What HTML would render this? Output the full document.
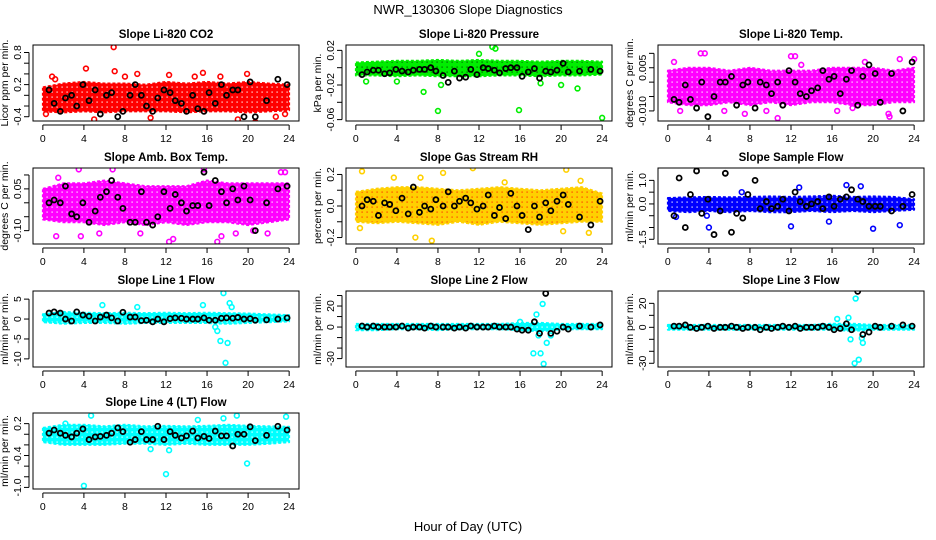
<!DOCTYPE html>
<html><head><meta charset="utf-8"><title>NWR_130306 Slope Diagnostics</title>
<style>
html,body{margin:0;padding:0;background:#fff;}
svg{display:block;font-family:"Liberation Sans",sans-serif;}
</style></head>
<body>
<svg id="fig" width="936" height="540" viewBox="0 0 936 540" xmlns="http://www.w3.org/2000/svg">
<rect width="936" height="540" fill="#fff"/>
<text x="468" y="14" text-anchor="middle" font-size="13">NWR_130306  Slope Diagnostics</text>
<text x="468" y="531" text-anchor="middle" font-size="13">Hour of Day (UTC)</text>
</svg>
<script>
// shared hours for black (reference) points
const blackHours = [0.6,1.1,1.7,2.2,2.8,3.3,3.9,4.5,5.1,5.6,6.2,6.7,7.3,7.8,8.5,9.0,9.6,10.1,10.7,11.2,11.8,12.4,12.9,13.5,14.0,14.6,15.1,15.7,16.2,16.8,17.4,17.9,18.5,19.0,19.6,20.2,20.7,21.8,22.9,23.8];
const bandHours = [0,2,4,6,8,10,12,14,16,18,20,22,24];
const xTicks = [0,4,8,12,16,20,24];

const co2Black = [0.1,-0.15,-0.3,-0.05,0.0,-0.2,0.2,-0.1,0.1,-0.35,0.0,0.05,-0.4,-0.3,0.0,0.2,0.0,-0.2,-0.3,-0.05,0.1,0.05,-0.1,-0.15,-0.3,0.0,-0.25,-0.3,0.05,-0.15,0.2,0.0,0.1,0.1,-0.4,0.25,-0.4,-0.1,0.3,0.2];
const co2Lo = [-0.3,-0.32,-0.3,-0.32,-0.3,-0.3,-0.3,-0.32,-0.3,-0.3,-0.32,-0.3,-0.28];
const co2Hi = [0.15,0.22,0.25,0.22,0.22,0.2,0.25,0.22,0.25,0.22,0.25,0.22,0.2];
const co2OutH = [0.3,0.9,4.2,6.9,7.0,8.0,9.2,12.3,14.8,15.6,19.0,19.9,20.7,22.7,1.2,5.0,10.5,17.3,23.6];
const co2OutV = [-0.35,0.35,0.5,0.9,0.45,0.35,0.4,0.38,0.35,0.42,-0.45,0.4,-0.5,-0.4,0.3,-0.45,-0.42,0.35,-0.35];

const presBlack = [-0.008,-0.005,-0.003,-0.003,-0.007,-0.006,-0.002,-0.004,-0.005,-0.003,-0.002,-0.002,0.0,-0.004,-0.009,-0.017,-0.004,-0.012,-0.011,-0.002,-0.008,0.0,-0.001,-0.003,-0.006,-0.001,0.0,0.0,-0.01,-0.005,-0.001,-0.012,-0.004,-0.005,-0.003,0.005,-0.005,-0.004,-0.002,-0.004];
const presLo = [-0.009,-0.009,-0.01,-0.009,-0.01,-0.01,-0.01,-0.009,-0.009,-0.01,-0.009,-0.009,-0.008];
const presHi = [0.006,0.007,0.008,0.008,0.009,0.008,0.009,0.008,0.008,0.007,0.008,0.008,0.007];
const presOutH = [8.0,8.3,6.6,15.9,12.0,13.3,13.6,18.0,20.0,21.6,24.0,4.0,1.0];
const presOutV = [-0.05,-0.02,-0.028,-0.049,0.016,0.024,0.022,-0.018,-0.02,-0.024,-0.058,-0.016,-0.016];

const tempBlack = [-0.006,-0.007,-0.001,-0.006,-0.009,0.0,-0.012,-0.005,0.0,0.0,0.002,-0.008,-0.001,0.0,-0.009,0.0,-0.001,-0.004,0.0,-0.008,0.004,0.0,-0.004,-0.005,-0.003,-0.002,0.004,0.001,0.002,-0.004,0.001,0.004,-0.008,0.002,0.006,0.003,-0.007,0.003,-0.01,0.007];
const tempLo = [-0.007,-0.008,-0.008,-0.007,-0.008,-0.007,-0.008,-0.007,-0.007,-0.008,-0.008,-0.007,-0.007];
const tempHi = [0.004,0.005,0.005,0.004,0.005,0.004,0.004,0.004,0.005,0.005,0.005,0.004,0.005];
const tempOutH = [3.2,3.6,10.7,12.0,12.4,19.2,21.5,21.6,22.6,24.0,0.6,1.2,5.5,7.5,9.6,13.0,16.5,18.0];
const tempOutV = [0.010,0.010,-0.0125,0.009,0.009,0.007,-0.011,-0.012,0.008,0.008,0.007,-0.010,-0.010,-0.011,-0.010,0.006,-0.010,-0.009];

const ambBlack = [0.0,0.01,0.0,0.06,-0.04,-0.05,0.0,-0.07,-0.03,0.02,0.04,0.08,0.02,-0.02,-0.07,-0.07,0.04,-0.07,-0.08,-0.05,0.04,-0.02,0.03,0.0,-0.03,-0.01,-0.01,0.11,-0.01,0.08,0.04,0.0,0.05,0.01,0.06,0.01,-0.1,0.0,0.05,0.06];
const ambLo = [-0.06,-0.07,-0.07,-0.08,-0.07,-0.08,-0.07,-0.08,-0.07,-0.07,-0.08,-0.07,-0.06];
const ambHi = [0.05,0.07,0.07,0.08,0.07,0.06,0.06,0.06,0.08,0.07,0.07,0.07,0.07];
const ambOutH = [1.3,3.5,3.7,5.5,6.8,12.3,12.7,15.7,17.0,17.4,21.9,23.2,23.6,1.5,9.5,18.8,20.5];
const ambOutV = [-0.12,0.12,-0.12,-0.11,0.12,-0.14,-0.13,0.12,-0.14,-0.12,-0.11,0.11,0.11,0.09,-0.11,-0.11,-0.1];

const rhBlack = [0.0,0.04,0.03,-0.06,0.02,0.01,-0.03,0.05,-0.05,0.12,-0.04,0.0,-0.02,0.04,0.0,0.09,0.0,0.03,0.05,0.02,-0.02,0.0,0.07,-0.06,-0.01,-0.08,0.08,0.0,-0.06,-0.15,0.0,-0.07,0.02,-0.03,0.03,0.07,0.01,-0.07,-0.12,0.03];
const rhLo = [-0.1,-0.11,-0.1,-0.11,-0.12,-0.1,-0.12,-0.1,-0.11,-0.12,-0.11,-0.1,-0.1];
const rhHi = [0.09,0.11,0.12,0.12,0.11,0.1,0.11,0.12,0.11,0.1,0.11,0.12,0.08];
const rhOutH = [0.6,0.4,7.4,8.5,5.8,6.3,11.4,20.5,20.2,22.7,21.9,3.7,14.5];
const rhOutV = [0.22,-0.14,-0.22,0.21,-0.2,0.18,0.24,0.23,-0.16,-0.17,0.16,0.18,0.15];

const sampBlack = [-0.5,1.1,-1.0,0.4,1.4,-0.4,0.2,-1.3,-0.3,1.3,-1.2,-0.4,-0.6,0.4,1.0,-0.2,0.1,-0.2,-0.1,0.2,-0.3,0.5,0.1,-0.1,0.0,0.1,-0.2,0.3,-0.1,0.2,0.3,0.6,0.2,0.1,-0.1,-0.1,-0.1,-0.3,-0.1,0.4];
const sampLo = [-0.3,-0.35,-0.3,-0.35,-0.3,-0.35,-0.35,-0.3,-0.35,-0.3,-0.35,-0.3,-0.25];
const sampHi = [0.25,0.28,0.3,0.28,0.3,0.32,0.3,0.32,0.35,0.3,0.32,0.3,0.2];
const sampOutH = [3.8,4.0,12.0,12.8,15.7,17.4,18.8,20.0,22.6,7.2,0.8];
const sampOutV = [-0.5,-1.0,-0.95,0.7,-0.75,0.8,0.75,-1.05,-0.9,0.5,-0.55];

const l1Black = [1.5,1.8,1.5,0.0,-0.5,1.8,1.0,0.7,-0.5,0.5,1.0,0.3,-0.5,1.7,0.5,0.5,-0.4,-0.3,-0.7,0.0,-0.7,0.1,0.3,0.2,0.0,0.0,0.0,0.3,-0.3,-0.3,0.2,0.3,0.2,0.4,0.0,0.1,-0.3,-0.2,0.0,0.3];
const l1Lo = [-0.8,-1.2,-1.0,-1.0,-1.2,-1.0,-1.0,-1.0,-1.0,-1.2,-1.0,-0.8,-0.6];
const l1Hi = [1.2,1.8,1.6,1.5,1.6,1.5,1.6,1.5,1.6,1.5,1.4,1.2,1.0];
const l1OutH = [17.8,17.6,17.3,17.0,18.0,18.4,18.2,16.8,5.8,9.2,15.6];
const l1OutV = [-11,6.5,-5.5,-3,-6,3,4,-2,3.5,3,3.5];

const l2Black = [1,0,1,0,0,0,0,1,-1,0,0,-1,1,0,0,0,-1,0,-1,1,0,0,0,1,0,0,0,-2,-3,-3,5,-6,32,-6,-4,0,-2,1,0,2];
const l2Lo = [-3,-3,-2,-2,-3,-2,-2,-2,-3,-4,-2,-2,-2];
const l2Hi = [3,3,3,3,3,3,3,3,4,4,3,3,3];
const l2OutH = [18.3,18.2,17.6,18.0,17.3,18.6,17.8,19.0,16.0];
const l2OutV = [-35,22,12,-25,-25,-15,-8,-8,5];

const l3Black = [1,1,2,0,-1,0,1,-1,0,0,1,0,-1,0,0,-2,0,-1,0,1,0,1,-1,0,0,0,1,0,-2,-1,3,-2,30,-6,-4,1,0,1,2,1];
const l3Lo = [-2,-2,-2,-2,-2,-2,-2,-2,-2,-3,-2,-2,-2];
const l3Hi = [2,2,2,2,2,2,2,2,3,3,2,2,2];
const l3OutH = [18.2,18.3,18.6,17.8,17.6,19.0,18.9,16.5];
const l3OutV = [-30,24,-27,-10,8,-13,-9,7];

const l4Black = [0.02,0.08,0.02,-0.02,-0.05,0.02,0.1,-0.1,-0.05,-0.04,-0.02,0.02,0.12,0.05,-0.15,-0.1,0.05,-0.1,-0.1,0.15,-0.1,0.05,-0.02,-0.07,-0.03,0.06,-0.07,-0.04,-0.08,0.06,-0.03,-0.03,-0.22,0.0,0.0,0.14,-0.12,-0.02,0.15,0.08];
const l4Lo = [-0.15,-0.2,-0.2,-0.2,-0.18,-0.18,-0.2,-0.18,-0.2,-0.2,-0.2,-0.18,-0.15];
const l4Hi = [0.12,0.18,0.18,0.15,0.18,0.15,0.16,0.15,0.16,0.18,0.16,0.15,0.14];
const l4OutH = [4.0,4.7,12.0,19.9,10.5,12.3,15.1,18.9,23.7,17.6,2.2];
const l4OutV = [-0.97,0.35,-0.75,-0.55,-0.28,-0.3,0.27,0.35,0.33,0.3,0.2];

const NS = "http://www.w3.org/2000/svg";
const svg = document.getElementById('fig');
function mk(tag, attrs, parent){
  const e = document.createElementNS(NS, tag);
  for (const k in attrs) e.setAttribute(k, attrs[k]);
  (parent||svg).appendChild(e);
  return e;
}
const defs = mk('defs', {});

const colLeft = [33,346,658], rowTop = [45,168,291,413], W = 266, H = 76;
const panels = [
 {name:'co2', title:'Slope Li-820 CO2', ylab:'Licor ppm per min.', col:0,row:0, ymin:-0.48,ymax:0.94, ticks:[-0.4,-0.2,0,0.2,0.4,0.6,0.8], labels:['-0.4','0.2','0.8'], color:'#ff0000', dot:'#ffffff', blk:co2Black, lo:co2Lo, hi:co2Hi, oh:co2OutH, ov:co2OutV},
 {name:'pressure', title:'Slope Li-820 Pressure', ylab:'kPa per min.', col:1,row:0, ymin:-0.0616,ymax:0.0262, ticks:[-0.06,-0.04,-0.02,0,0.02], labels:['-0.06','-0.02','0.02'], color:'#00ee00', dot:'#005500', blk:presBlack, lo:presLo, hi:presHi, oh:presOutH, ov:presOutV},
 {name:'li820-temp', title:'Slope Li-820 Temp.', ylab:'degrees C per min.', col:2,row:0, ymin:-0.0135,ymax:0.0129, ticks:[-0.01,-0.005,0,0.005,0.01], labels:['-0.010','0.005'], color:'#ff00ff', dot:'#ffffff', blk:tempBlack, lo:tempLo, hi:tempHi, oh:tempOutH, ov:tempOutV},
 {name:'amb-box-temp', title:'Slope Amb. Box Temp.', ylab:'degrees C per min.', col:0,row:1, ymin:-0.148,ymax:0.125, ticks:[-0.1,-0.05,0,0.05,0.1], labels:['-0.10','0.05'], color:'#ff00ff', dot:'#ffffff', blk:ambBlack, lo:ambLo, hi:ambHi, oh:ambOutH, ov:ambOutV},
 {name:'gas-stream-rh', title:'Slope Gas Stream RH', ylab:'percent per min.', col:1,row:1, ymin:-0.241,ymax:0.241, ticks:[-0.2,-0.1,0,0.1,0.2], labels:['-0.2','0.0','0.2'], color:'#ffd000', dot:'#ff3000', blk:rhBlack, lo:rhLo, hi:rhHi, oh:rhOutH, ov:rhOutV},
 {name:'sample-flow', title:'Slope Sample Flow', ylab:'ml/min per min.', col:2,row:1, ymin:-1.7,ymax:1.525, ticks:[-1.5,-1,-0.5,0,0.5,1], labels:['-1.5','0.0','1.0'], color:'#0000ff', dot:'#ffffff', blk:sampBlack, lo:sampLo, hi:sampHi, oh:sampOutH, ov:sampOutV},
 {name:'line1-flow', title:'Slope Line 1 Flow', ylab:'ml/min per min.', col:0,row:2, ymin:-12.04,ymax:7.04, ticks:[-10,-5,0,5], labels:['-10','-5','0','5'], color:'#00ffff', dot:'#ffffff', blk:l1Black, lo:l1Lo, hi:l1Hi, oh:l1OutH, ov:l1OutV},
 {name:'line2-flow', title:'Slope Line 2 Flow', ylab:'ml/min per min.', col:1,row:2, ymin:-38,ymax:34.3, ticks:[-30,-20,-10,0,10,20,30], labels:['-30','0','20'], color:'#00ffff', dot:'#ffffff', blk:l2Black, lo:l2Lo, hi:l2Hi, oh:l2OutH, ov:l2OutV},
 {name:'line3-flow', title:'Slope Line 3 Flow', ylab:'ml/min per min.', col:2,row:2, ymin:-33.1,ymax:30.3, ticks:[-30,-20,-10,0,10,20], labels:['-30','0','20'], color:'#00ffff', dot:'#ffffff', blk:l3Black, lo:l3Lo, hi:l3Hi, oh:l3OutH, ov:l3OutV},
 {name:'line4-flow', title:'Slope Line 4 (LT) Flow', ylab:'ml/min per min.', col:0,row:3, ymin:-1.03,ymax:0.40, ticks:[-1,-0.8,-0.6,-0.4,-0.2,0,0.2], labels:['-1.0','-0.4','0.2'], color:'#00ffff', dot:'#ffffff', blk:l4Black, lo:l4Lo, hi:l4Hi, oh:l4OutH, ov:l4OutV}
];

panels.forEach(p => {
  const L = colLeft[p.col], T = rowTop[p.row];
  const xs = h => L + (h + 0.96) / 25.92 * W;
  const ys = v => T + (p.ymax - v) / (p.ymax - p.ymin) * H;
  // speckled pattern mimicking overplotted circles
  const pat = mk('pattern', {id:'pat-' + p.name, width:5, height:5, patternUnits:'userSpaceOnUse'}, defs);
  mk('rect', {width:5, height:5, fill:p.color}, pat);
  mk('rect', {x:1.5, y:1.5, width:1.2, height:1.2, fill:p.dot}, pat);
  const g = mk('g', {});
  
  
  const clip = mk('clipPath', {id:'clip-' + p.name}, g);
  mk('rect', {x:L, y:T, width:W, height:H}, clip);
  const t = mk('text', {x:L + W/2, y:T - 7, 'text-anchor':'middle', 'font-size':'11.5', 'font-weight':'bold'}, g);
  
  
  t.textContent = p.title;
  const yl = mk('text', {x:0, y:0, 'text-anchor':'middle', 'font-size':'10.5', transform:`translate(${L-25},${T+H/2}) rotate(-90)`}, g);
  
  
  yl.textContent = p.ylab;
  const marks = mk('g', {'clip-path':`url(#clip-${p.name})`}, g);
  let d = '';
  bandHours.forEach((h,i) => { d += (i ? 'L' : 'M') + xs(h).toFixed(1) + ',' + ys(p.hi[i]).toFixed(1); });
  for (let i = bandHours.length - 1; i >= 0; i--) d += 'L' + xs(bandHours[i]).toFixed(1) + ',' + ys(p.lo[i]).toFixed(1);
  d += 'Z';
  const band = mk('path', {d:d, fill:`url(#pat-${p.name})`, stroke:p.color, 'stroke-width':'2', 'stroke-dasharray':'3 2', 'stroke-linejoin':'round'}, marks);
  
  
  p.oh.forEach((h,i) => {
    const c = mk('circle', {cx:xs(h), cy:ys(p.ov[i]), r:2.4, fill:'none', stroke:p.color, 'stroke-width':'1.6'}, marks);
    
    
  });
  blackHours.forEach((h,i) => {
    const c = mk('circle', {cx:xs(h), cy:ys(p.blk[i]), r:2.5, fill:'none', stroke:'#000', 'stroke-width':'1.8'}, marks);
    
    
  });
  const box = mk('rect', {x:L, y:T, width:W, height:H, fill:'none', stroke:'#000', 'stroke-width':'1'}, g);
  
  
  const xa = mk('g', {}, g);
  
  
  mk('line', {x1:xs(0), x2:xs(24), y1:T+H+4, y2:T+H+4, stroke:'#000'}, xa);
  xTicks.forEach(v => {
    mk('line', {x1:xs(v), x2:xs(v), y1:T+H+4, y2:T+H+9, stroke:'#000'}, xa);
    const tl = mk('text', {x:xs(v), y:T+H+21, 'text-anchor':'middle', 'font-size':'10.5'}, xa);
    
    
    tl.textContent = v;
  });
  const ya = mk('g', {}, g);
  
  
  const tmin = Math.min(...p.ticks), tmax = Math.max(...p.ticks);
  mk('line', {x1:L-4, x2:L-4, y1:ys(tmin), y2:ys(tmax), stroke:'#000'}, ya);
  p.ticks.forEach(v => mk('line', {x1:L-9, x2:L-4, y1:ys(v), y2:ys(v), stroke:'#000'}, ya));
  p.labels.forEach(s => {
    const v = parseFloat(s);
    const tl = mk('text', {x:0, y:0, 'text-anchor':'middle', 'font-size':'10.5', transform:`translate(${L-12},${ys(v)}) rotate(-90)`}, ya);
    
    
    tl.textContent = s;
  });
});
</script>
</body></html>
